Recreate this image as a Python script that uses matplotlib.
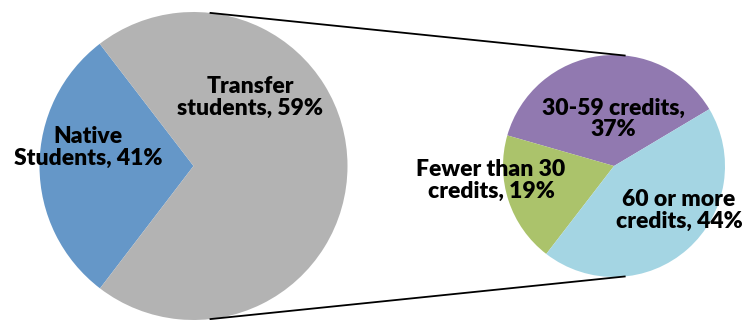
import numpy as np
import matplotlib.pyplot as plt

# Left pie: native vs transfer (wedge sizes as drawn, labels as printed)
main_labels = ['Native\nStudents, 41%', 'Transfer\nstudents, 59%']
main_sizes = [29.2, 70.8]
main_colors = ['#6597c8', '#b3b3b3']

# Right pie: breakdown of transfer students by credits
sub_labels = ['30-59 credits,\n37%', 'Fewer than 30\ncredits, 19%', '60 or more\ncredits, 44%']
sub_sizes = [37, 19, 44]
sub_colors = ['#9179b0', '#abc36b', '#a4d5e3']

fig = plt.figure(figsize=(7.45, 3.2), dpi=100)
ax = fig.add_axes([0, 0, 1, 1])

# pies in pixel-like coordinates (y up)
left_c, left_r = (193.5, 154), 154
right_c, right_r = (614, 154), 111

ax.pie(main_sizes, colors=main_colors, startangle=127.5, counterclock=True,
       center=left_c, radius=left_r, wedgeprops=dict(linewidth=0))
ax.pie(sub_sizes, colors=sub_colors, startangle=30.8, counterclock=True,
       center=right_c, radius=right_r, wedgeprops=dict(linewidth=0))

# connector lines between the two pies
ang = np.radians(84)
for s in (1, -1):
    x1 = left_c[0] + left_r * np.cos(ang)
    y1 = left_c[1] + s * left_r * np.sin(ang)
    x2 = right_c[0] + right_r * np.cos(ang)
    y2 = right_c[1] + s * right_r * np.sin(ang)
    ax.plot([x1, x2], [y1, y2], color='black', lw=1.3, solid_capstyle='butt')

# label placement (pixel coords from top-left)
label_pos = [(88, 147), (250, 97), (613, 119), (491, 180), (679, 210)]
for txt, (x, y) in zip(main_labels + sub_labels, label_pos):
    ax.text(x, 320 - y, txt, ha='center', va='center', multialignment='center',
            fontsize=16.5, fontweight='heavy', family='Lato', linespacing=1.05)

ax.set_xlim(0, 745)
ax.set_ylim(0, 320)
ax.set_aspect('equal')
ax.axis('off')

plt.savefig('out.png', dpi=100)
